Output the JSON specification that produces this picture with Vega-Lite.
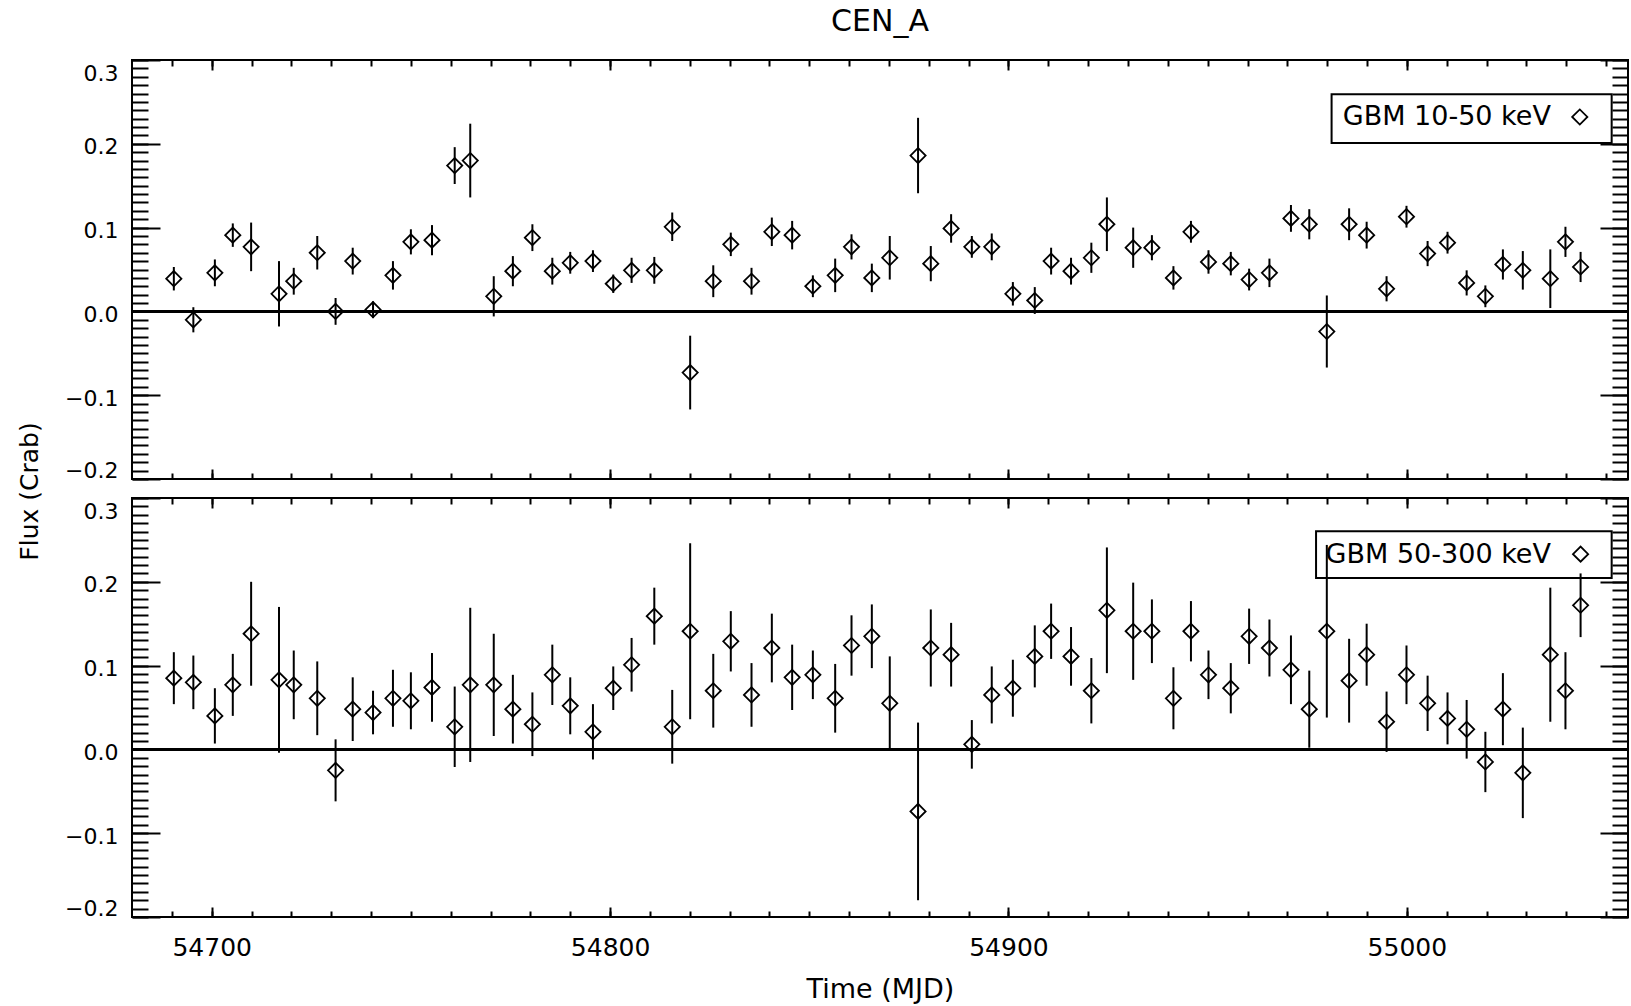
{
"$schema": "https://vega.github.io/schema/vega-lite/v6.json",
"background": "white",
"padding": {"left": 16, "top": 6, "right": 3, "bottom": 5},
"spacing": 19,
"bounds": "flush",
"datasets": {
"low": [
{"t":54690.5,"flux":0.039,"err":0.014},{"t":54695.4,"flux":-0.010,"err":0.015},{"t":54700.8,"flux":0.046,"err":0.016},{"t":54705.3,"flux":0.091,"err":0.014},{"t":54709.9,"flux":0.077,"err":0.029},{"t":54716.9,"flux":0.021,"err":0.039},{"t":54720.6,"flux":0.036,"err":0.016},{"t":54726.5,"flux":0.070,"err":0.020},{"t":54731.1,"flux":0.000,"err":0.016},{"t":54735.4,"flux":0.060,"err":0.016},
{"t":54740.5,"flux":0.002,"err":0.010},{"t":54745.5,"flux":0.043,"err":0.017},{"t":54750.0,"flux":0.083,"err":0.015},{"t":54755.3,"flux":0.085,"err":0.018},{"t":54761.0,"flux":0.174,"err":0.022},{"t":54764.9,"flux":0.180,"err":0.044},{"t":54770.8,"flux":0.018,"err":0.024},{"t":54775.6,"flux":0.048,"err":0.018},{"t":54780.5,"flux":0.088,"err":0.016},{"t":54785.5,"flux":0.048,"err":0.016},
{"t":54790.0,"flux":0.058,"err":0.013},{"t":54795.7,"flux":0.060,"err":0.013},{"t":54800.8,"flux":0.033,"err":0.011},{"t":54805.4,"flux":0.049,"err":0.015},{"t":54811.1,"flux":0.049,"err":0.016},{"t":54815.6,"flux":0.101,"err":0.017},{"t":54820.1,"flux":-0.073,"err":0.044},{"t":54825.9,"flux":0.036,"err":0.019},{"t":54830.3,"flux":0.080,"err":0.014},{"t":54835.5,"flux":0.036,"err":0.016},
{"t":54840.6,"flux":0.095,"err":0.017},{"t":54845.7,"flux":0.091,"err":0.017},{"t":54850.9,"flux":0.030,"err":0.013},{"t":54856.5,"flux":0.043,"err":0.020},{"t":54860.6,"flux":0.077,"err":0.015},{"t":54865.7,"flux":0.040,"err":0.017},{"t":54870.2,"flux":0.064,"err":0.026},{"t":54877.3,"flux":0.186,"err":0.045},{"t":54880.5,"flux":0.057,"err":0.021},{"t":54885.6,"flux":0.099,"err":0.017},
{"t":54890.8,"flux":0.077,"err":0.013},{"t":54895.8,"flux":0.077,"err":0.016},{"t":54901.1,"flux":0.021,"err":0.014},{"t":54906.6,"flux":0.013,"err":0.016},{"t":54910.7,"flux":0.060,"err":0.016},{"t":54915.7,"flux":0.048,"err":0.016},{"t":54920.8,"flux":0.064,"err":0.018},{"t":54924.7,"flux":0.104,"err":0.032},{"t":54931.3,"flux":0.076,"err":0.024},{"t":54936.0,"flux":0.076,"err":0.015},
{"t":54941.4,"flux":0.040,"err":0.014},{"t":54945.8,"flux":0.095,"err":0.013},{"t":54950.2,"flux":0.059,"err":0.014},{"t":54955.8,"flux":0.057,"err":0.014},{"t":54960.4,"flux":0.038,"err":0.013},{"t":54965.5,"flux":0.046,"err":0.017},{"t":54970.9,"flux":0.111,"err":0.016},{"t":54975.5,"flux":0.104,"err":0.018},{"t":54979.9,"flux":-0.024,"err":0.043},{"t":54985.5,"flux":0.104,"err":0.019},
{"t":54989.9,"flux":0.091,"err":0.016},{"t":54994.9,"flux":0.027,"err":0.015},{"t":54999.9,"flux":0.113,"err":0.013},{"t":55005.2,"flux":0.069,"err":0.015},{"t":55010.2,"flux":0.082,"err":0.013},{"t":55015.0,"flux":0.034,"err":0.015},{"t":55019.7,"flux":0.018,"err":0.013},{"t":55024.1,"flux":0.056,"err":0.018},{"t":55029.1,"flux":0.049,"err":0.023},{"t":55036.0,"flux":0.039,"err":0.035},
{"t":55039.8,"flux":0.083,"err":0.018},{"t":55043.6,"flux":0.053,"err":0.018}
],
"high": [
{"t":54690.5,"flux":0.085,"err":0.031},{"t":54695.4,"flux":0.080,"err":0.032},{"t":54700.8,"flux":0.040,"err":0.033},{"t":54705.3,"flux":0.077,"err":0.037},{"t":54709.9,"flux":0.138,"err":0.062},{"t":54716.9,"flux":0.083,"err":0.087},{"t":54720.6,"flux":0.077,"err":0.041},{"t":54726.5,"flux":0.061,"err":0.044},{"t":54731.1,"flux":-0.025,"err":0.037},{"t":54735.4,"flux":0.048,"err":0.038},
{"t":54740.5,"flux":0.044,"err":0.026},{"t":54745.5,"flux":0.061,"err":0.034},{"t":54750.0,"flux":0.058,"err":0.034},{"t":54755.3,"flux":0.074,"err":0.041},{"t":54761.0,"flux":0.027,"err":0.048},{"t":54764.9,"flux":0.077,"err":0.092},{"t":54770.8,"flux":0.077,"err":0.061},{"t":54775.6,"flux":0.048,"err":0.041},{"t":54780.5,"flux":0.030,"err":0.038},{"t":54785.5,"flux":0.089,"err":0.036},
{"t":54790.0,"flux":0.052,"err":0.034},{"t":54795.7,"flux":0.021,"err":0.033},{"t":54800.8,"flux":0.073,"err":0.026},{"t":54805.4,"flux":0.101,"err":0.032},{"t":54811.1,"flux":0.159,"err":0.034},{"t":54815.6,"flux":0.027,"err":0.044},{"t":54820.1,"flux":0.141,"err":0.105},{"t":54825.9,"flux":0.070,"err":0.044},{"t":54830.3,"flux":0.129,"err":0.036},{"t":54835.5,"flux":0.065,"err":0.038},
{"t":54840.6,"flux":0.121,"err":0.041},{"t":54845.7,"flux":0.086,"err":0.039},{"t":54850.9,"flux":0.089,"err":0.029},{"t":54856.5,"flux":0.061,"err":0.041},{"t":54860.6,"flux":0.124,"err":0.036},{"t":54865.7,"flux":0.135,"err":0.038},{"t":54870.2,"flux":0.055,"err":0.056},{"t":54877.3,"flux":-0.074,"err":0.106},{"t":54880.5,"flux":0.121,"err":0.046},{"t":54885.6,"flux":0.113,"err":0.038},
{"t":54890.8,"flux":0.006,"err":0.029},{"t":54895.8,"flux":0.065,"err":0.034},{"t":54901.1,"flux":0.073,"err":0.034},{"t":54906.6,"flux":0.111,"err":0.037},{"t":54910.7,"flux":0.141,"err":0.033},{"t":54915.7,"flux":0.111,"err":0.035},{"t":54920.8,"flux":0.070,"err":0.039},{"t":54924.7,"flux":0.166,"err":0.075},{"t":54931.3,"flux":0.141,"err":0.058},{"t":54936.0,"flux":0.141,"err":0.038},
{"t":54941.4,"flux":0.061,"err":0.037},{"t":54945.8,"flux":0.141,"err":0.036},{"t":54950.2,"flux":0.089,"err":0.029},{"t":54955.8,"flux":0.073,"err":0.030},{"t":54960.4,"flux":0.135,"err":0.033},{"t":54965.5,"flux":0.121,"err":0.034},{"t":54970.9,"flux":0.095,"err":0.041},{"t":54975.5,"flux":0.048,"err":0.046},{"t":54979.9,"flux":0.141,"err":0.103},{"t":54985.5,"flux":0.082,"err":0.050},
{"t":54989.9,"flux":0.113,"err":0.037},{"t":54994.9,"flux":0.033,"err":0.036},{"t":54999.9,"flux":0.089,"err":0.035},{"t":55005.2,"flux":0.055,"err":0.033},{"t":55010.2,"flux":0.037,"err":0.031},{"t":55015.0,"flux":0.024,"err":0.035},{"t":55019.7,"flux":-0.015,"err":0.036},{"t":55024.1,"flux":0.048,"err":0.043},{"t":55029.1,"flux":-0.028,"err":0.054},{"t":55036.0,"flux":0.113,"err":0.080},
{"t":55039.8,"flux":0.070,"err":0.046},{"t":55043.6,"flux":0.172,"err":0.038}
]
},
"vconcat": [
{
"width": 1496, "height": 419,
"title": {"text": "CEN_A", "anchor": "middle", "frame": "group", "offset": 22, "fontSize": 30, "fontWeight": "normal", "font": "DejaVu Sans", "color": "black"},
"data": {"name": "low"},
"layer": [
{"mark": {"type": "errorbar", "ticks": false, "color": "black", "thickness": 2},
 "encoding": {
  "x": {"field": "t", "type": "quantitative", "scale": {"domain": [54680, 55055.5], "nice": false, "zero": false}, "axis": null},
  "y": {"field": "flux", "type": "quantitative", "scale": {"domain": [-0.2, 0.3], "nice": false, "zero": false}, "axis": null},
  "yError": {"field": "err"}}},
{"mark": {"type": "point", "shape": "diamond", "filled": false, "size": 230, "color": "black", "strokeWidth": 1.8, "opacity": 1},
 "encoding": {
  "x": {"field": "t", "type": "quantitative", "scale": {"domain": [54680, 55055.5], "nice": false, "zero": false},
        "axis": {"orient": "bottom", "values": [54700, 54800, 54900, 55000], "tickSize": -10, "labels": false, "title": null}},
  "y": {"field": "flux", "type": "quantitative", "scale": {"domain": [-0.2, 0.3], "nice": false, "zero": false},
        "axis": {"orient": "left", "values": [-0.2, -0.1, 0, 0.1, 0.2, 0.3], "tickSize": -28, "labelPadding": 42, "format": ".1f", "labelFontSize": 22, "labelFlush": true, "labelOffset": 3,
                 "title": "Flux (Crab)", "titleX": -103, "titleY": 431, "titleAngle": -90, "titleAlign": "center", "titleBaseline": "middle", "titleFontSize": 25}}}},
{"mark": {"type": "rule", "color": "black", "strokeWidth": 2},
 "encoding": {"y": {"datum": 0, "type": "quantitative", "axis": null}}},
{"data": {"values": [{"label": "GBM 10-50 keV"}]},
 "mark": {"type": "rect", "fill": "transparent", "stroke": "black", "strokeWidth": 2},
 "encoding": {
  "x": {"datum": 54981.1, "type": "quantitative", "axis": {"orient": "top", "values": [54700, 54800, 54900, 55000], "tickSize": -10, "labels": false, "title": null}},
  "x2": {"datum": 55051.4},
  "y": {"datum": 0.259, "type": "quantitative", "axis": {"orient": "right", "values": [-0.2, -0.1, 0, 0.1, 0.2, 0.3], "tickSize": -28, "labels": false, "title": null}},
  "y2": {"datum": 0.201}}},
{"data": {"values": [{"label": "GBM 10-50 keV"}]},
 "mark": {"type": "text", "align": "left", "baseline": "middle", "fontSize": 27, "font": "DejaVu Sans", "color": "black"},
 "encoding": {
  "x": {"datum": 54983.9, "type": "quantitative", "axis": {"orient": "top", "values": [54690,54700,54710,54720,54730,54740,54750,54760,54770,54780,54790,54800,54810,54820,54830,54840,54850,54860,54870,54880,54890,54900,54910,54920,54930,54940,54950,54960,54970,54980,54990,55000,55010,55020,55030,55040,55050], "tickSize": -6, "labels": false, "title": null}},
  "y": {"datum": 0.2325, "type": "quantitative", "axis": {"orient": "right", "values": [-0.2,-0.19,-0.18,-0.17,-0.16,-0.15,-0.14,-0.13,-0.12,-0.11,-0.1,-0.09,-0.08,-0.07,-0.06,-0.05,-0.04,-0.03,-0.02,-0.01,0,0.01,0.02,0.03,0.04,0.05,0.06,0.07,0.08,0.09,0.1,0.11,0.12,0.13,0.14,0.15,0.16,0.17,0.18,0.19,0.2,0.21,0.22,0.23,0.24,0.25,0.26,0.27,0.28,0.29,0.3], "tickSize": -16, "labels": false, "title": null}},
  "text": {"field": "label"}}},
{"data": {"values": [{"label": "GBM 10-50 keV"}]},
 "mark": {"type": "point", "shape": "diamond", "filled": false, "size": 230, "color": "black", "strokeWidth": 1.8, "opacity": 1},
 "encoding": {
  "x": {"datum": 55043.4, "type": "quantitative", "axis": {"orient": "bottom", "values": [54690,54700,54710,54720,54730,54740,54750,54760,54770,54780,54790,54800,54810,54820,54830,54840,54850,54860,54870,54880,54890,54900,54910,54920,54930,54940,54950,54960,54970,54980,54990,55000,55010,55020,55030,55040,55050], "tickSize": -6, "labels": false, "title": null}},
  "y": {"datum": 0.232, "type": "quantitative", "axis": {"orient": "left", "values": [-0.2,-0.19,-0.18,-0.17,-0.16,-0.15,-0.14,-0.13,-0.12,-0.11,-0.1,-0.09,-0.08,-0.07,-0.06,-0.05,-0.04,-0.03,-0.02,-0.01,0,0.01,0.02,0.03,0.04,0.05,0.06,0.07,0.08,0.09,0.1,0.11,0.12,0.13,0.14,0.15,0.16,0.17,0.18,0.19,0.2,0.21,0.22,0.23,0.24,0.25,0.26,0.27,0.28,0.29,0.3], "tickSize": -16, "labels": false, "title": null}}}}
],
"resolve": {"axis": {"x": "independent", "y": "independent"}}
},
{
"width": 1496, "height": 419,
"data": {"name": "high"},
"layer": [
{"mark": {"type": "errorbar", "ticks": false, "color": "black", "thickness": 2},
 "encoding": {
  "x": {"field": "t", "type": "quantitative", "scale": {"domain": [54680, 55055.5], "nice": false, "zero": false}, "axis": null},
  "y": {"field": "flux", "type": "quantitative", "scale": {"domain": [-0.2, 0.3], "nice": false, "zero": false}, "axis": null},
  "yError": {"field": "err"}}},
{"mark": {"type": "point", "shape": "diamond", "filled": false, "size": 230, "color": "black", "strokeWidth": 1.8, "opacity": 1},
 "encoding": {
  "x": {"field": "t", "type": "quantitative", "scale": {"domain": [54680, 55055.5], "nice": false, "zero": false},
        "axis": {"orient": "bottom", "values": [54700, 54800, 54900, 55000], "tickSize": -10, "labelPadding": 28, "format": "d", "labelFontSize": 25,
                 "title": "Time (MJD)", "titleY": 72, "titleBaseline": "middle", "titleFontSize": 27}},
  "y": {"field": "flux", "type": "quantitative", "scale": {"domain": [-0.2, 0.3], "nice": false, "zero": false},
        "axis": {"orient": "left", "values": [-0.2, -0.1, 0, 0.1, 0.2, 0.3], "tickSize": -28, "labelPadding": 42, "format": ".1f", "labelFontSize": 22, "labelFlush": true, "labelOffset": 3, "title": null}}}},
{"mark": {"type": "rule", "color": "black", "strokeWidth": 2},
 "encoding": {"y": {"datum": 0, "type": "quantitative", "axis": null}}},
{"data": {"values": [{"label": "GBM 50-300 keV"}]},
 "mark": {"type": "rect", "fill": "transparent", "stroke": "black", "strokeWidth": 2},
 "encoding": {
  "x": {"datum": 54977.2, "type": "quantitative", "axis": {"orient": "top", "values": [54700, 54800, 54900, 55000], "tickSize": -10, "labels": false, "title": null}},
  "x2": {"datum": 55051.4},
  "y": {"datum": 0.2604, "type": "quantitative", "axis": {"orient": "right", "values": [-0.2, -0.1, 0, 0.1, 0.2, 0.3], "tickSize": -28, "labels": false, "title": null}},
  "y2": {"datum": 0.2045}}},
{"data": {"values": [{"label": "GBM 50-300 keV"}]},
 "mark": {"type": "text", "align": "left", "baseline": "middle", "fontSize": 27, "font": "DejaVu Sans", "color": "black"},
 "encoding": {
  "x": {"datum": 54979.6, "type": "quantitative", "axis": {"orient": "top", "values": [54690,54700,54710,54720,54730,54740,54750,54760,54770,54780,54790,54800,54810,54820,54830,54840,54850,54860,54870,54880,54890,54900,54910,54920,54930,54940,54950,54960,54970,54980,54990,55000,55010,55020,55030,55040,55050], "tickSize": -6, "labels": false, "title": null}},
  "y": {"datum": 0.2325, "type": "quantitative", "axis": {"orient": "right", "values": [-0.2,-0.19,-0.18,-0.17,-0.16,-0.15,-0.14,-0.13,-0.12,-0.11,-0.1,-0.09,-0.08,-0.07,-0.06,-0.05,-0.04,-0.03,-0.02,-0.01,0,0.01,0.02,0.03,0.04,0.05,0.06,0.07,0.08,0.09,0.1,0.11,0.12,0.13,0.14,0.15,0.16,0.17,0.18,0.19,0.2,0.21,0.22,0.23,0.24,0.25,0.26,0.27,0.28,0.29,0.3], "tickSize": -16, "labels": false, "title": null}},
  "text": {"field": "label"}}},
{"data": {"values": [{"label": "GBM 50-300 keV"}]},
 "mark": {"type": "point", "shape": "diamond", "filled": false, "size": 230, "color": "black", "strokeWidth": 1.8, "opacity": 1},
 "encoding": {
  "x": {"datum": 55043.6, "type": "quantitative", "axis": {"orient": "bottom", "values": [54690,54700,54710,54720,54730,54740,54750,54760,54770,54780,54790,54800,54810,54820,54830,54840,54850,54860,54870,54880,54890,54900,54910,54920,54930,54940,54950,54960,54970,54980,54990,55000,55010,55020,55030,55040,55050], "tickSize": -6, "labels": false, "title": null}},
  "y": {"datum": 0.233, "type": "quantitative", "axis": {"orient": "left", "values": [-0.2,-0.19,-0.18,-0.17,-0.16,-0.15,-0.14,-0.13,-0.12,-0.11,-0.1,-0.09,-0.08,-0.07,-0.06,-0.05,-0.04,-0.03,-0.02,-0.01,0,0.01,0.02,0.03,0.04,0.05,0.06,0.07,0.08,0.09,0.1,0.11,0.12,0.13,0.14,0.15,0.16,0.17,0.18,0.19,0.2,0.21,0.22,0.23,0.24,0.25,0.26,0.27,0.28,0.29,0.3], "tickSize": -16, "labels": false, "title": null}}}}
],
"resolve": {"axis": {"x": "independent", "y": "independent"}}
}
],
"config": {
"font": "DejaVu Sans",
"view": {"stroke": "black", "strokeWidth": 2},
"axis": {"domain": false, "grid": false, "tickColor": "black", "tickWidth": 2, "labelColor": "black", "titleColor": "black", "labelFont": "DejaVu Sans", "titleFont": "DejaVu Sans", "titleFontWeight": "normal"}
}
}
